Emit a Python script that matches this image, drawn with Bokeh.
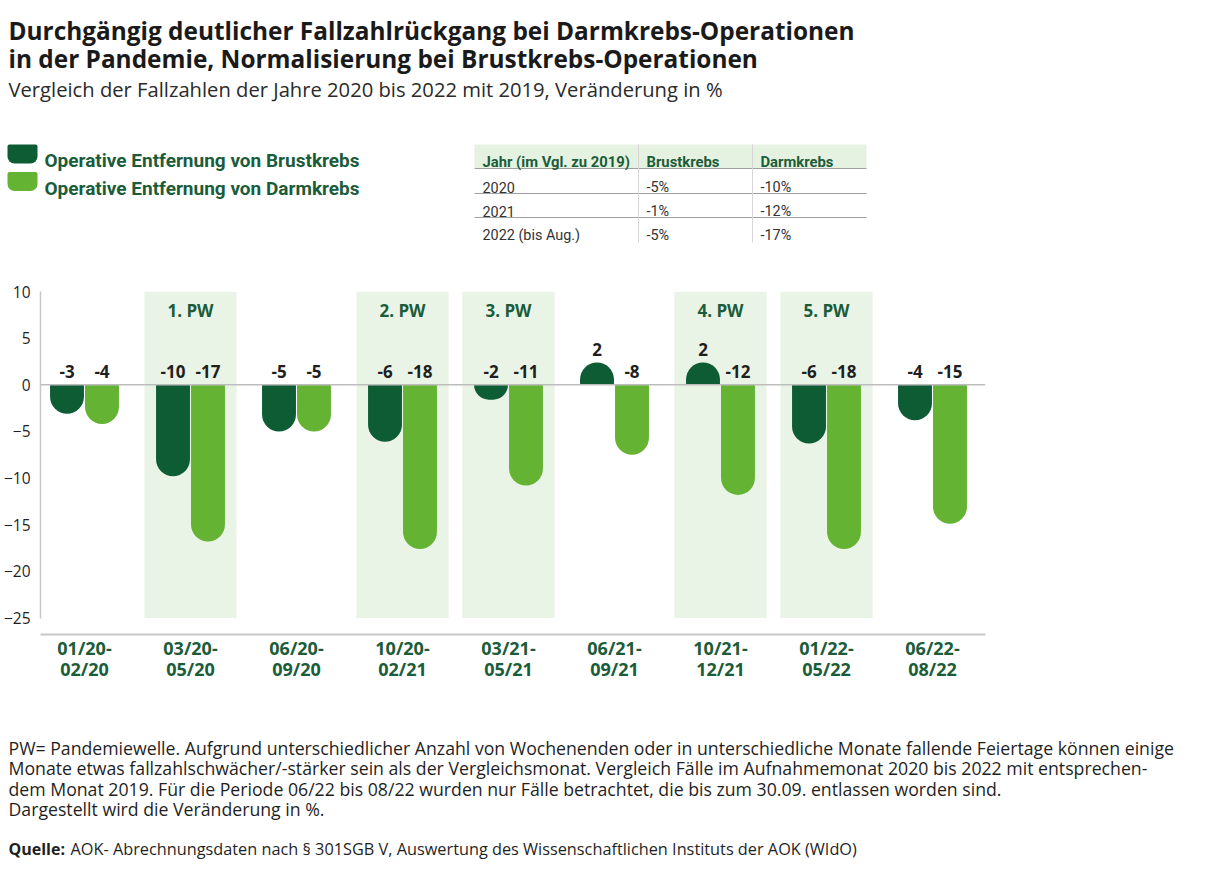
from bokeh.plotting import figure
from bokeh.layouts import column
from bokeh.models import (Range1d, FixedTicker, Span, ColumnDataSource, CDSView, BooleanFilter)
from bokeh.transform import dodge
from bokeh.core.properties import value
from bokeh.embed import file_html
from bokeh.resources import INLINE
import numpy as np

# ---------------- data ----------------
periods = ["01/20-\n02/20", "03/20-\n05/20", "06/20-\n09/20", "10/20-\n02/21", "03/21-\n05/21",
           "06/21-\n09/21", "10/21-\n12/21", "01/22-\n05/22", "06/22-\n08/22"]
waves = ["", "1. PW", "", "2. PW", "3. PW", "", "4. PW", "5. PW", ""]
brust = [-3.1, -9.8, -5.0, -6.1, -1.6, 2.4, 2.4, -6.3, -3.8]
darm = [-4.2, -16.8, -5.0, -17.6, -10.8, -7.5, -11.8, -17.6, -14.9]
y_ticks = [10, 5, 0, -5, -10, -15, -20, -25]

series_names = ["Operative Entfernung von Brustkrebs", "Operative Entfernung von Darmkrebs"]

table_header = ["Jahr (im Vgl. zu 2019)", "Brustkrebs", "Darmkrebs"]
table_years = ["2020", "2021", "2022 (bis Aug.)"]
table_brust = ["-5%", "-1%", "-5%"]
table_darm = ["-10%", "-12%", "-17%"]

title_lines = ["Durchgängig deutlicher Fallzahlrückgang bei Darmkrebs-Operationen",
               "in der Pandemie, Normalisierung bei Brustkrebs-Operationen"]
subtitle = "Vergleich der Fallzahlen der Jahre 2020 bis 2022 mit 2019, Veränderung in %"
notes = ["PW= Pandemiewelle. Aufgrund unterschiedlicher Anzahl von Wochenenden oder in unterschiedliche Monate fallende Feiertage können einige",
         "Monate etwas fallzahlschwächer/-stärker sein als der Vergleichsmonat. Vergleich Fälle im Aufnahmemonat 2020 bis 2022 mit entsprechen-",
         "dem Monat 2019. Für die Periode 06/22 bis 08/22 wurden nur Fälle betrachtet, die bis zum 30.09. entlassen worden sind.",
         "Dargestellt wird die Veränderung in %."]
source_bold = "Quelle:"
source_text = "AOK- Abrechnungsdaten nach § 301SGB V, Auswertung des Wissenschaftlichen Instituts der AOK (WIdO)"

# ---------------- style ----------------
DARK = "#0d5c34"
LIGHT = "#64b333"
BAND = "#eaf4e6"
TXT = "#1f1f1f"
GREEN_TXT = "#1b5c3a"
FONT = "Open Sans"
TFONT = "Roboto"

W = 1197
TOP_H = 279
CHART_H = 426
BOT_H = 156


def blank_fig(h):
    f = figure(width=W, height=h, output_backend="svg", toolbar_location=None,
               x_range=Range1d(0, W), y_range=Range1d(h, 0),
               x_axis_type=None, y_axis_type=None, min_border=0, frame_align=False)
    f.outline_line_color = None
    f.xgrid.visible = False
    f.ygrid.visible = False
    f.background_fill_color = "white"
    f.border_fill_color = "white"
    return f


def txt(f, x, y, text, size, bold=False, color=TXT, font=FONT, align="left"):
    f.text(x=[x], y=[y], text=[text], text_font=value(font), text_font_size=f"{size}px",
           text_font_style="bold" if bold else "normal", text_color=color,
           text_baseline="alphabetic", text_align=align)


# ================= top: title, legend, table =================
top = blank_fig(TOP_H)
txt(top, 8, 30, title_lines[0], 24.4, bold=True, color="#1a1a1a")
txt(top, 8, 58, title_lines[1], 24.4, bold=True, color="#1a1a1a")
txt(top, 8, 88, subtitle, 20.2, color="#2a2a2a")

# legend
leg_y = [144, 171.5]
for k, (name, col) in enumerate(zip(series_names, [DARK, LIGHT])):
    top.quad(left=[7], right=[37], top=[leg_y[k]], bottom=[leg_y[k] + 19], fill_color=col,
             line_color=None, border_radius=(2, 2, 7, 7))
    txt(top, 44, leg_y[k] + 16, name, 19, bold=True, color=GREEN_TXT, font=TFONT)

# table
tx = [474, 638, 752, 866]
ty = [144, 168, 193, 217, 242]
top.quad(left=[tx[0]], right=[tx[3]], top=[ty[0]], bottom=[ty[1]], fill_color="#e6f2e1", line_color=None)
top.segment(x0=[tx[0]] * 3, x1=[tx[3]] * 3, y0=ty[1:4], y1=ty[1:4], line_color="#a0a0a0", line_width=1.2)
top.segment(x0=tx[1:3], x1=tx[1:3], y0=[ty[0]] * 2, y1=[ty[4]] * 2, line_color="#d6d6d6", line_width=1)
for j, h in enumerate(table_header):
    txt(top, tx[j] + 8, 161.5, h, 14.8, bold=True, color=GREEN_TXT, font=TFONT)
for i in range(len(table_years)):
    base = 187 + 24 * i
    txt(top, tx[0] + 8, base, table_years[i], 14.4, color="#333333", font=TFONT)
    txt(top, tx[1] + 8, base, table_brust[i], 14.4, color="#333333", font=TFONT)
    txt(top, tx[2] + 8, base, table_darm[i], 14.4, color="#333333", font=TFONT)

# ================= chart =================
FL = 40
p = figure(width=W, height=CHART_H, output_backend="svg", toolbar_location=None,
           x_range=Range1d(-(84 - FL) / 106, -(84 - FL) / 106 + (985 - FL) / 106),
           y_range=Range1d(-26.76, 10), frame_align=False,
           min_border_left=FL, min_border_right=W - 985, min_border_top=12, min_border_bottom=71)
p.outline_line_color = None
p.xgrid.visible = False
p.ygrid.visible = False
p.background_fill_color = "white"
p.border_fill_color = "white"

idx = np.arange(len(periods))
neg_b = [v < 0 for v in brust]
pos_b = [v >= 0 for v in brust]
neg_d = [v < 0 for v in darm]
pos_d = [v >= 0 for v in darm]
src = ColumnDataSource(dict(
    x=idx, brust=brust, darm=darm, waves=waves,
    brust_lbl=[f"{round(v):d}" for v in brust],
    darm_lbl=[f"{round(v):d}" for v in darm],
    brust_y=[max(v, 0) + 1.4 for v in brust],
    darm_y=[max(v, 0) + 1.4 for v in darm],
))

band_view = CDSView(filter=BooleanFilter([w != "" for w in waves]))
p.vbar(x="x", width=0.87, bottom=y_ticks[-1], top=y_ticks[0], source=src, view=band_view,
       fill_color=BAND, line_color=None)
p.text(x="x", y=8.0, text="waves", source=src, view=band_view, text_align="center",
       text_baseline="middle", text_font=value(FONT), text_font_style="bold",
       text_font_size="17px", text_color=GREEN_TXT)

p.add_layout(Span(location=0, dimension="width", line_color="#bdbdbd", line_width=1.5))

R = 17
bw = 0.32
off = 0.165
for vals, neg, pos, dx, col in (("brust", neg_b, pos_b, -off, DARK), ("darm", neg_d, pos_d, off, LIGHT)):
    if any(neg):
        p.vbar(x=dodge("x", dx, range=p.x_range), width=bw, top=0, bottom=vals, source=src,
               view=CDSView(filter=BooleanFilter(neg)), fill_color=col, line_color=None,
               border_radius=(0, 0, R, R))
    if any(pos):
        p.vbar(x=dodge("x", dx, range=p.x_range), width=bw, top=vals, bottom=0, source=src,
               view=CDSView(filter=BooleanFilter(pos)), fill_color=col, line_color=None,
               border_radius=(R, R, 0, 0))

for col, ycol, dx in (("brust_lbl", "brust_y", -off), ("darm_lbl", "darm_y", off)):
    p.text(x=dodge("x", dx, range=p.x_range), y=ycol, text=col, source=src,
           text_align="center", text_baseline="middle", text_font=value(FONT),
           text_font_style="bold", text_font_size="17px", text_color=TXT)

p.yaxis.ticker = FixedTicker(ticks=y_ticks)
p.yaxis.bounds = (y_ticks[-1], y_ticks[0])
p.yaxis.axis_line_color = "#c8c8c8"
p.yaxis.axis_line_width = 1.5
p.yaxis.major_tick_line_color = None
p.yaxis.minor_tick_line_color = None
p.yaxis.major_label_standoff = 4
p.yaxis.major_label_text_font = FONT
p.yaxis.major_label_text_font_size = "15.5px"
p.yaxis.major_label_text_color = TXT

p.xaxis.ticker = FixedTicker(ticks=list(idx))
p.xaxis.major_label_overrides = {int(i): periods[i] for i in idx}
p.xaxis.axis_line_color = "#c8c8c8"
p.xaxis.axis_line_width = 2
p.xaxis.major_tick_line_color = None
p.xaxis.minor_tick_line_color = None
p.xaxis.major_label_standoff = -5
p.xaxis.major_label_text_font = FONT
p.xaxis.major_label_text_font_style = "bold"
p.xaxis.major_label_text_font_size = "18px"
p.xaxis.major_label_text_line_height = 0.9
p.xaxis.major_label_text_color = GREEN_TXT

# ================= bottom: notes =================
bot = blank_fig(BOT_H)
for i, line in enumerate(notes):
    txt(bot, 8, 42 + 20.6 * i, line, 17.7)
txt(bot, 8, 143, source_bold, 16, bold=True)
txt(bot, 70, 143, source_text, 16.3)

layout = column(top, p, bot, spacing=0)
open("out.html", "w").write(file_html(layout, INLINE))
